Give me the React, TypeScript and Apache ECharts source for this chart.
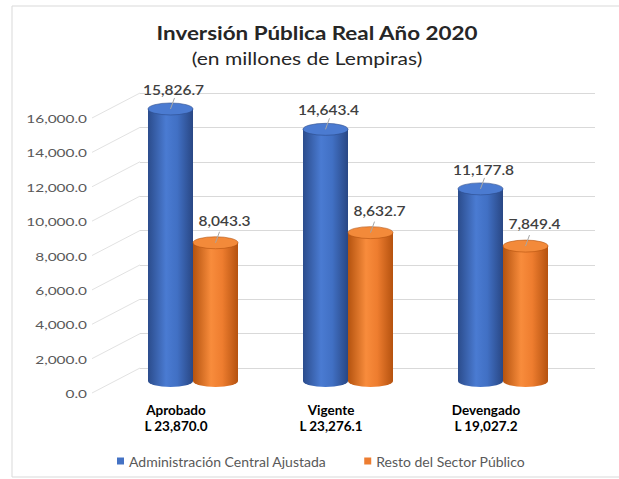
import React, { useEffect, useRef } from "react";
import * as echarts from "echarts";

const categories = ["Aprobado", "Vigente", "Devengado"];
const totals = ["L 23,870.0", "L 23,276.1", "L 19,027.2"];
const seriesNames = ["Administración Central Ajustada", "Resto del Sector Público"];
const adminCentral = [15826.7, 14643.4, 11177.8];
const restoSector = [8043.3, 8632.7, 7849.4];
const yTicks = [0, 2000, 4000, 6000, 8000, 10000, 12000, 14000, 16000];
const titleText = "Inversión Pública Real Año 2020";
const subtitleText = "(en millones de Lempiras)";

const FONT = "Lato, 'Liberation Sans', sans-serif";
const fmt = (v: number) =>
  v.toLocaleString("en-US", { minimumFractionDigits: 1, maximumFractionDigits: 1 });

const blueStops = [
  { offset: 0, color: "#2b4c8c" },
  { offset: 0.4, color: "#4a7bd2" },
  { offset: 0.65, color: "#4170c4" },
  { offset: 1, color: "#294784" },
];
const orangeStops = [
  { offset: 0, color: "#b4530f" },
  { offset: 0.4, color: "#f88c3c" },
  { offset: 0.65, color: "#ee7d2f" },
  { offset: 1, color: "#b5520f" },
];

function cylinder(side: number, stops: any[], topColor: string, labelOffset: number[]) {
  return (params: any, api: any) => {
    const cat = api.value(0);
    const val = api.value(1);
    const top = api.coord([cat, val]);
    const base = api.coord([cat, 0]);
    const w = 45;
    const rx = w / 2;
    const ry = 6;
    const cx = top[0] + side * rx;
    const x0 = cx - rx;
    const x1 = cx + rx;
    const yT = top[1];
    const yB = base[1];
    const body = `M${x0} ${yT} L${x0} ${yB} A${rx} ${ry} 0 0 0 ${x1} ${yB} L${x1} ${yT} Z`;
    const cap = `M${x0} ${yT} A${rx} ${ry} 0 0 0 ${x1} ${yT} A${rx} ${ry} 0 0 0 ${x0} ${yT} Z`;
    return {
      type: "group",
      children: [
        {
          type: "path",
          shape: { pathData: body },
          style: {
            fill: { type: "linear", x: 0, y: 0, x2: 1, y2: 0, colorStops: stops },
          },
        },
        {
          type: "path",
          shape: { pathData: cap },
          style: { fill: topColor, stroke: stops[0].color, lineWidth: 0.6 },
        },
        {
          type: "line",
          shape: { x1: cx, y1: yT, x2: cx + 4, y2: yT - 11 },
          style: { stroke: "#a6a6a6", lineWidth: 1 },
        },
        {
          type: "text",
          x: cx + labelOffset[0],
          y: yT + labelOffset[1],
          scaleX: 1.15,
          style: {
            text: fmt(val),
            fill: "#404040",
            font: `600 13.5px ${FONT}`,
            align: "center",
            verticalAlign: "middle",
          },
        },
      ],
    };
  };
}

export default function App() {
  const ref = useRef<HTMLDivElement>(null);
  useEffect(() => {
    if (!ref.current) return;
    const chart = echarts.init(ref.current, null, { renderer: "svg" });
    const gridH = 275;
    chart.setOption({
      animation: false,
      backgroundColor: "#ffffff",
      graphic: [
        {
          type: "rect",
          shape: { x: 12, y: 6, width: 640, height: 471 },
          style: { fill: "none", stroke: "#d9d9d9", lineWidth: 1 },
          silent: true,
        },
        {
          type: "text",
          x: 317,
          y: 32,
          scaleX: 1.18,
          style: {
            text: titleText,
            font: `bold 19px ${FONT}`,
            fill: "#262626",
            align: "center",
            verticalAlign: "middle",
          },
        },
        {
          type: "text",
          x: 307,
          y: 58,
          scaleX: 1.17,
          style: {
            text: subtitleText,
            font: `18px ${FONT}`,
            fill: "#262626",
            align: "center",
            verticalAlign: "middle",
          },
        },
      ],
      legend: {
        data: seriesNames,
        top: 449,
        left: 112,
        icon: "rect",
        itemWidth: 7,
        itemHeight: 7,
        itemGap: 38,
        textStyle: { fontFamily: FONT, fontSize: 14, color: "#595959" },
      },
      grid: [
        { left: 140, right: 24, top: 93, height: gridH },
        { left: 92, width: 48, top: 118, height: gridH },
        { left: 115.5, width: 465, top: 106, height: gridH },
      ],
      xAxis: [
        { type: "value", gridIndex: 0, show: false, min: 0, max: 1 },
        { type: "value", gridIndex: 1, show: false, min: 0, max: 1 },
        {
          type: "category",
          gridIndex: 2,
          data: categories,
          axisLine: { show: false },
          axisTick: { show: false },
          axisLabel: {
            margin: 21,
            padding: [0, 34, 0, 0],
            fontFamily: FONT,
            fontSize: 13.5,
            fontWeight: "bold",
            color: "#000000",
            lineHeight: 16,
            formatter: (v: string) => {
              const i = categories.indexOf(v);
              return `${v}\n${totals[i]}`;
            },
          },
        },
      ],
      yAxis: [
        {
          type: "value",
          gridIndex: 0,
          min: 0,
          max: 16000,
          interval: 2000,
          axisLabel: { show: false },
          axisLine: { show: false },
          axisTick: { show: false },
          splitLine: { lineStyle: { color: "#d9d9d9", width: 1 } },
        },
        {
          type: "value",
          gridIndex: 1,
          min: 0,
          max: 16000,
          interval: 2000,
          axisLine: { show: false },
          axisTick: { show: false },
          splitLine: { show: false },
          axisLabel: { show: false },
        },
        {
          type: "value",
          gridIndex: 2,
          min: 0,
          max: 16000,
          interval: 2000,
          show: false,
          splitLine: { show: false },
        },
      ],
      series: [
        {
          type: "custom",
          name: "walls",
          xAxisIndex: 1,
          yAxisIndex: 1,
          silent: true,
          data: yTicks.map((t) => [0, t]),
          renderItem: (params: any, api: any) => {
            const v = api.value(1);
            const p = api.coord([0, v]);
            return {
              type: "group",
              children: [
                {
                  type: "line",
                  shape: { x1: p[0], y1: p[1], x2: p[0] + 48, y2: p[1] - 25 },
                  style: { stroke: "#e2e2e2", lineWidth: 1 },
                },
                {
                  type: "text",
                  x: p[0] - 5,
                  y: p[1] + 1,
                  scaleX: 1.4,
                  style: {
                    text: fmt(v),
                    font: `11px ${FONT}`,
                    fill: "#595959",
                    align: "right",
                    verticalAlign: "middle",
                  },
                },
              ],
            };
          },
        },
        {
          type: "custom",
          name: seriesNames[0],
          xAxisIndex: 2,
          yAxisIndex: 2,
          itemStyle: { color: "#4472c4" },
          data: adminCentral.map((v, i) => [i, v]),
          renderItem: cylinder(-1, blueStops, "#4b7bd1", [3, -19]),
        },
        {
          type: "custom",
          name: seriesNames[1],
          xAxisIndex: 2,
          yAxisIndex: 2,
          itemStyle: { color: "#ed7d31" },
          data: restoSector.map((v, i) => [i, v]),
          renderItem: cylinder(1, orangeStops, "#f38a3a", [9, -22]),
        },
      ],
    });
    return () => chart.dispose();
  }, []);
  return (
    <div
      ref={ref}
      style={{ position: "fixed", left: 0, top: 0, width: 619, height: 479, background: "#fff" }}
    />
  );
}
